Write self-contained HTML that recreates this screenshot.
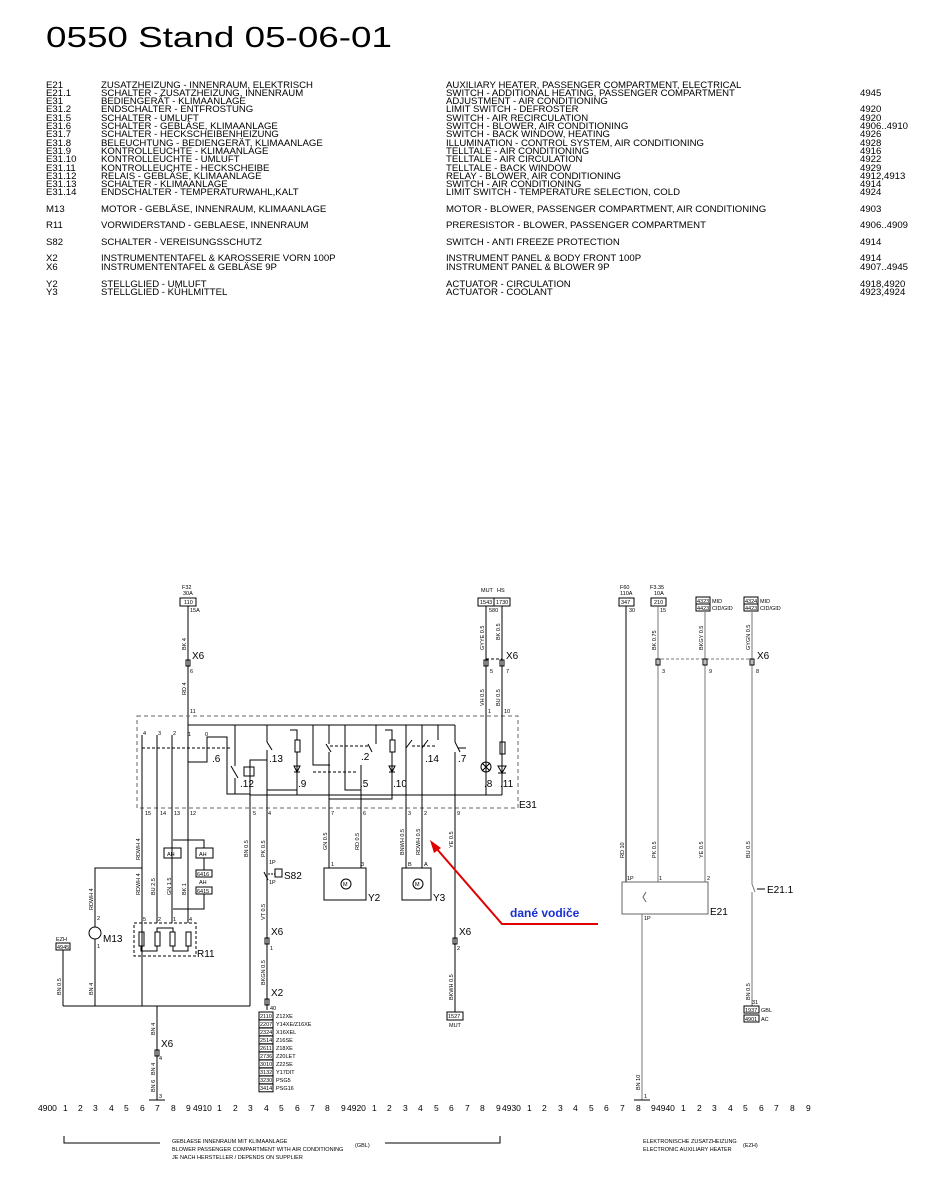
<!DOCTYPE html>
<html><head><meta charset="utf-8"><style>
html,body{margin:0;padding:0;background:#fff;}
svg{display:block;}
text{font-family:"Liberation Sans",sans-serif;fill:#000;}
.lg{font-size:9.6px;}
.t{font-size:5.5px;}
.m{font-size:10px;}
</style></head><body>
<svg width="926" height="1182" viewBox="0 0 926 1182" xmlns="http://www.w3.org/2000/svg">
<rect width="926" height="1182" fill="#fff"/>
<text x="46" y="47" font-size="29" textLength="346" lengthAdjust="spacingAndGlyphs">0550 Stand 05-06-01</text>

<g class="lg">
<text x="46" y="88">E21</text><text x="101" y="88">ZUSATZHEIZUNG - INNENRAUM, ELEKTRISCH</text><text x="446" y="88">AUXILIARY HEATER, PASSENGER COMPARTMENT, ELECTRICAL</text>
<text x="46" y="96">E21.1</text><text x="101" y="96">SCHALTER - ZUSATZHEIZUNG, INNENRAUM</text><text x="446" y="96">SWITCH - ADDITIONAL HEATING, PASSENGER COMPARTMENT</text><text x="860" y="96">4945</text>
<text x="46" y="104">E31</text><text x="101" y="104">BEDIENGERÄT - KLIMAANLAGE</text><text x="446" y="104">ADJUSTMENT - AIR CONDITIONING</text>
<text x="46" y="112">E31.2</text><text x="101" y="112">ENDSCHALTER - ENTFROSTUNG</text><text x="446" y="112">LIMIT SWITCH - DEFROSTER</text><text x="860" y="112">4920</text>
<text x="46" y="121">E31.5</text><text x="101" y="121">SCHALTER - UMLUFT</text><text x="446" y="121">SWITCH - AIR RECIRCULATION</text><text x="860" y="121">4920</text>
<text x="46" y="129">E31.6</text><text x="101" y="129">SCHALTER - GEBLÄSE, KLIMAANLAGE</text><text x="446" y="129">SWITCH - BLOWER, AIR CONDITIONING</text><text x="860" y="129">4906..4910</text>
<text x="46" y="137">E31.7</text><text x="101" y="137">SCHALTER - HECKSCHEIBENHEIZUNG</text><text x="446" y="137">SWITCH - BACK WINDOW, HEATING</text><text x="860" y="137">4926</text>
<text x="46" y="146">E31.8</text><text x="101" y="146">BELEUCHTUNG - BEDIENGERÄT, KLIMAANLAGE</text><text x="446" y="146">ILLUMINATION - CONTROL SYSTEM, AIR CONDITIONING</text><text x="860" y="146">4928</text>
<text x="46" y="154">E31.9</text><text x="101" y="154">KONTROLLEUCHTE - KLIMAANLAGE</text><text x="446" y="154">TELLTALE - AIR CONDITIONING</text><text x="860" y="154">4916</text>
<text x="46" y="162">E31.10</text><text x="101" y="162">KONTROLLEUCHTE - UMLUFT</text><text x="446" y="162">TELLTALE - AIR CIRCULATION</text><text x="860" y="162">4922</text>
<text x="46" y="171">E31.11</text><text x="101" y="171">KONTROLLEUCHTE - HECKSCHEIBE</text><text x="446" y="171">TELLTALE - BACK WINDOW</text><text x="860" y="171">4929</text>
<text x="46" y="179">E31.12</text><text x="101" y="179">RELAIS - GEBLÄSE, KLIMAANLAGE</text><text x="446" y="179">RELAY - BLOWER, AIR CONDITIONING</text><text x="860" y="179">4912,4913</text>
<text x="46" y="187">E31.13</text><text x="101" y="187">SCHALTER - KLIMAANLAGE</text><text x="446" y="187">SWITCH - AIR CONDITIONING</text><text x="860" y="187">4914</text>
<text x="46" y="195">E31.14</text><text x="101" y="195">ENDSCHALTER - TEMPERATURWAHL,KALT</text><text x="446" y="195">LIMIT SWITCH - TEMPERATURE SELECTION, COLD</text><text x="860" y="195">4924</text>
<text x="46" y="212">M13</text><text x="101" y="212">MOTOR - GEBLÄSE, INNENRAUM, KLIMAANLAGE</text><text x="446" y="212">MOTOR - BLOWER, PASSENGER COMPARTMENT, AIR CONDITIONING</text><text x="860" y="212">4903</text>
<text x="46" y="228">R11</text><text x="101" y="228">VORWIDERSTAND - GEBLAESE, INNENRAUM</text><text x="446" y="228">PRERESISTOR - BLOWER, PASSENGER COMPARTMENT</text><text x="860" y="228">4906..4909</text>
<text x="46" y="245">S82</text><text x="101" y="245">SCHALTER - VEREISUNGSSCHUTZ</text><text x="446" y="245">SWITCH - ANTI FREEZE PROTECTION</text><text x="860" y="245">4914</text>
<text x="46" y="261">X2</text><text x="101" y="261">INSTRUMENTENTAFEL &amp; KAROSSERIE VORN 100P</text><text x="446" y="261">INSTRUMENT PANEL &amp; BODY FRONT 100P</text><text x="860" y="261">4914</text>
<text x="46" y="270">X6</text><text x="101" y="270">INSTRUMENTENTAFEL &amp; GEBLÄSE 9P</text><text x="446" y="270">INSTRUMENT PANEL &amp; BLOWER 9P</text><text x="860" y="270">4907..4945</text>
<text x="46" y="287">Y2</text><text x="101" y="287">STELLGLIED - UMLUFT</text><text x="446" y="287">ACTUATOR - CIRCULATION</text><text x="860" y="287">4918,4920</text>
<text x="46" y="295">Y3</text><text x="101" y="295">STELLGLIED - KÜHLMITTEL</text><text x="446" y="295">ACTUATOR - COOLANT</text><text x="860" y="295">4923,4924</text>
</g>

<g fill="none" stroke="#000" stroke-width="1">
<rect x="180" y="598" width="16" height="8"/>
<line x1="188" y1="606" x2="188" y2="725"/>
<rect x="137" y="716" width="381" height="92" stroke="#666" stroke-dasharray="4,3"/>
<line x1="188" y1="725" x2="455" y2="725"/>
<line x1="142" y1="735" x2="142" y2="1006"/>
<line x1="157" y1="735" x2="157" y2="923"/>
<line x1="172" y1="735" x2="172" y2="923"/>
<line x1="188" y1="725" x2="188" y2="923"/>
<line x1="142" y1="748" x2="232" y2="748" stroke-dasharray="3,2"/>
<path d="M188 762 H207 V737 H227 V794 H250"/>
<path d="M235 725 V766 M235 778 V794"/>
<line x1="231" y1="766" x2="238" y2="778"/>
<rect x="244" y="767" width="10" height="9"/>
<path d="M250 767 V760 H267"/>
<path d="M267 725 V742 M267 750 V790 H297"/>
<line x1="267" y1="742" x2="272" y2="750"/>
<path d="M290 730 H297 V740"/><rect x="295" y="740" width="5" height="12"/>
<path d="M297 752 V795"/>
<path d="M313 725 V765 H330 M329 725 V744 M329 752 V795"/>
<line x1="326" y1="744" x2="331" y2="752"/>
<line x1="330" y1="746" x2="370" y2="746" stroke-dasharray="3,2"/>
<line x1="313" y1="772" x2="358" y2="772" stroke-dasharray="3,2"/>
<path d="M345 725 V790 H361 V808"/>
<path d="M376 725 V744"/><line x1="368" y1="744" x2="372" y2="752"/>
<path d="M361 765 V808"/>
<path d="M385 730 H392 V740"/><rect x="390" y="740" width="5" height="12"/>
<path d="M392 752 V799 H329"/>
<path d="M406 725 V808 M422 725 V808"/>
<line x1="406" y1="748" x2="412" y2="740"/><line x1="422" y1="748" x2="428" y2="740"/>
<line x1="412" y1="746" x2="436" y2="746" stroke-dasharray="3,2"/>
<path d="M438 725 V740"/>
<path d="M455 725 V742 M455 752 V808"/>
<line x1="455" y1="742" x2="460" y2="752"/><line x1="458" y1="748" x2="466" y2="748"/>
<line x1="250" y1="795" x2="502" y2="795"/>
<line x1="250" y1="760" x2="250" y2="1006"/>
<line x1="267" y1="790" x2="267" y2="1010"/>
<line x1="329" y1="795" x2="329" y2="868"/>
<line x1="361" y1="808" x2="361" y2="868"/>
<line x1="406" y1="808" x2="406" y2="868"/>
<line x1="422" y1="808" x2="422" y2="868"/>
<line x1="455" y1="808" x2="455" y2="1012"/>
<rect x="478" y="598" width="16" height="8"/><rect x="494" y="598" width="16" height="8"/>
<line x1="486" y1="606" x2="486" y2="795"/>
<line x1="502" y1="606" x2="502" y2="795"/>
<circle cx="486" cy="767" r="5"/><path d="M482 763 L490 771 M490 763 L482 771"/>
<rect x="500" y="742" width="5" height="12"/>
<path d="M498 766 H506 L502 773 Z M498 773 H506"/>
<path d="M294 766 H300 L297 772 Z M294 772 H300 M389 766 H395 L392 772 Z M389 772 H395"/>
<rect x="186" y="660" width="4" height="6"/>
<rect x="484" y="660" width="4" height="6"/><rect x="500" y="660" width="4" height="6"/>
<line x1="486" y1="659" x2="502" y2="659" stroke-dasharray="3,2"/>
<path d="M142 868 H95 V927 M95 939 V1006"/>
<circle cx="95" cy="933" r="6"/>
<line x1="63" y1="1006" x2="250" y2="1006"/>
<rect x="56" y="943" width="14" height="7"/>
<line x1="63" y1="950" x2="63" y2="1006"/>
<line x1="157" y1="1006" x2="157" y2="1100"/>
<line x1="149" y1="1100" x2="165" y2="1100"/>
<rect x="155" y="1050" width="4" height="6"/>
<path d="M173 840 H204 V848 M204 858 V870 M204 894 V909 H173"/>
<rect x="164" y="848" width="17" height="10"/><rect x="196" y="848" width="17" height="10"/>
<rect x="196" y="870" width="16" height="7"/><rect x="196" y="887" width="16" height="7"/>
<rect x="134" y="923" width="62" height="33" stroke-dasharray="3,2"/>
<rect x="139" y="932" width="5" height="14"/><rect x="155" y="932" width="5" height="14"/>
<rect x="170" y="932" width="5" height="14"/><rect x="186" y="932" width="5" height="14"/>
<path d="M141 946 V951 H157 V946 M157 932 V928 H173 V932 M173 946 V951 H188 V946"/>
<line x1="264" y1="872" x2="268" y2="880"/>
<rect x="275" y="869" width="7" height="8"/>
<line x1="268" y1="874" x2="275" y2="874" stroke-dasharray="2,1"/>
<rect x="265" y="938" width="4" height="6"/><rect x="265" y="999" width="4" height="6"/>
<rect x="259" y="1012" width="14" height="7.8"/><rect x="259" y="1020" width="14" height="7.8"/>
<rect x="259" y="1028" width="14" height="7.8"/><rect x="259" y="1036" width="14" height="7.8"/>
<rect x="259" y="1044" width="14" height="7.8"/><rect x="259" y="1052" width="14" height="7.8"/>
<rect x="259" y="1060" width="14" height="7.8"/><rect x="259" y="1068" width="14" height="7.8"/>
<rect x="259" y="1076" width="14" height="7.8"/><rect x="259" y="1084" width="14" height="7.8"/>
<rect x="324" y="868" width="42" height="32"/>
<circle cx="346" cy="884" r="5"/>
<rect x="402" y="868" width="29" height="32"/>
<circle cx="418" cy="884" r="5"/>
<rect x="453" y="938" width="4" height="6"/>
<rect x="447" y="1012" width="16" height="8"/>
<rect x="619" y="598" width="15" height="8"/><rect x="651" y="598" width="15" height="8"/>
<rect x="696" y="597" width="14" height="7"/><rect x="696" y="604" width="14" height="7"/>
<rect x="744" y="597" width="14" height="7"/><rect x="744" y="604" width="14" height="7"/>
<line x1="626" y1="606" x2="626" y2="882"/>
<line x1="658" y1="606" x2="658" y2="882" stroke="#777"/>
<line x1="705" y1="611" x2="705" y2="882" stroke="#777"/>
<line x1="752" y1="611" x2="752" y2="884" stroke="#777"/>
<line x1="752" y1="892" x2="752" y2="1006" stroke="#777"/>
<line x1="752" y1="884" x2="755" y2="892" stroke="#777"/><line x1="757" y1="889" x2="765" y2="889"/>
<line x1="656" y1="659" x2="754" y2="659" stroke="#777" stroke-dasharray="3,2"/>
<rect x="656" y="659" width="4" height="6"/><rect x="703" y="659" width="4" height="6"/><rect x="750" y="659" width="4" height="6"/>
<rect x="622" y="882" width="86" height="32" stroke="#666"/>
<path d="M646 892 L643 897 L646 902" stroke="#666"/>
<line x1="642" y1="914" x2="642" y2="1100" stroke="#777"/>
<line x1="634" y1="1100" x2="650" y2="1100"/>
<rect x="744" y="1006" width="15" height="7"/><rect x="744" y="1015" width="15" height="7"/>
<path d="M64 1136 V1143 H160"/>
<path d="M385 1143 H500 V1136"/>
</g>
<g stroke="#e00000" stroke-width="2" fill="none"><path d="M598 924 H502 L436 848"/></g>
<path d="M430 840 L441 848 L434 853 Z" fill="#e00000"/>
<text x="510" y="917" font-size="12" font-weight="bold" style="fill:#1a2fd0">dané vodiče</text>

<g class="t">
<text x="182" y="589">F32</text><text x="183" y="595">30A</text><text x="184" y="604">110</text><text x="190" y="612">15A</text>
<text x="188" y="736">1</text><text x="205" y="736">0</text>
<text x="481" y="592">MUT</text><text x="497" y="592">HS</text><text x="480" y="604">1543</text><text x="496" y="604">1730</text><text x="489" y="612">580</text>
<text x="490" y="673">5</text><text x="506" y="673">7</text><text x="190" y="673">6</text>
<text x="190" y="713">11</text><text x="488" y="713">1</text><text x="504" y="713">10</text>
<text x="143" y="735">4</text><text x="158" y="735">3</text><text x="173" y="735">2</text>
<text x="145" y="815">15</text><text x="160" y="815">14</text><text x="174" y="815">13</text><text x="190" y="815">12</text>
<text x="253" y="815">5</text><text x="268" y="815">4</text><text x="331" y="815">7</text><text x="363" y="815">6</text>
<text x="408" y="815">3</text><text x="424" y="815">2</text><text x="457" y="815">9</text>
<text x="56" y="941">EZH</text><text x="57" y="949">4945</text>
<text x="97" y="920">2</text><text x="97" y="948">1</text>
<text x="143" y="921">5</text><text x="158" y="921">2</text><text x="173" y="921">1</text><text x="189" y="921">4</text>
<text x="167" y="856">AH</text><text x="199" y="856">AH</text><text x="197" y="876">6416</text><text x="199" y="884">AH</text><text x="197" y="893">6415</text>
<text x="269" y="864">1P</text><text x="269" y="884">1P</text>
<text x="270" y="950">1</text><text x="270" y="1010">40</text>
<text x="159" y="1060">4</text><text x="159" y="1098">3</text>
<text x="260" y="1018">2110</text><text x="276" y="1018">Z12XE</text>
<text x="260" y="1026">2207</text><text x="276" y="1026">Y14XE/Z16XE</text>
<text x="260" y="1034">2324</text><text x="276" y="1034">X16XEL</text>
<text x="260" y="1042">2514</text><text x="276" y="1042">Z16SE</text>
<text x="260" y="1050">2611</text><text x="276" y="1050">Z18XE</text>
<text x="260" y="1058">2736</text><text x="276" y="1058">Z20LET</text>
<text x="260" y="1066">3010</text><text x="276" y="1066">Z22SE</text>
<text x="260" y="1074">3132</text><text x="276" y="1074">Y17DIT</text>
<text x="260" y="1082">3230</text><text x="276" y="1082">PSG5</text>
<text x="260" y="1090">3414</text><text x="276" y="1090">PSG16</text>
<text x="331" y="866">1</text><text x="361" y="866">3</text><text x="408" y="866">B</text><text x="424" y="866">A</text>
<text x="343" y="886">M</text><text x="415" y="886">M</text>
<text x="457" y="950">2</text>
<text x="448" y="1018">1527</text><text x="449" y="1027">MUT</text>
<text x="620" y="589">F60</text><text x="620" y="595">110A</text><text x="621" y="604">347</text><text x="629" y="612">30</text>
<text x="650" y="589">F3.35</text><text x="654" y="595">10A</text><text x="654" y="604">210</text><text x="660" y="612">15</text>
<text x="697" y="603">4323</text><text x="712" y="603">MID</text><text x="697" y="610">4423</text><text x="712" y="610">CID/GID</text>
<text x="745" y="603">4324</text><text x="760" y="603">MID</text><text x="745" y="610">4423</text><text x="760" y="610">CID/GID</text>
<text x="662" y="673">3</text><text x="709" y="673">9</text><text x="756" y="673">8</text>
<text x="627" y="880">1P</text><text x="659" y="880">1</text><text x="707" y="880">2</text><text x="644" y="920">1P</text>
<text x="752" y="1004">31</text><text x="745" y="1012">1937</text><text x="761" y="1012">GBL</text><text x="745" y="1021">4901</text><text x="761" y="1021">AC</text>
<text x="644" y="1098">1</text>
</g>
<g class="t">
<text transform="translate(186,650) rotate(-90)">BK 4</text>
<text transform="translate(186,695) rotate(-90)">RD 4</text>
<text transform="translate(484,650) rotate(-90)">GYYE 0.5</text>
<text transform="translate(500,640) rotate(-90)">BK 0.5</text>
<text transform="translate(484,706) rotate(-90)">VH 0.5</text>
<text transform="translate(500,706) rotate(-90)">BU 0.5</text>
<text transform="translate(140,860) rotate(-90)">RDWH 4</text>
<text transform="translate(140,895) rotate(-90)">RDWH 4</text>
<text transform="translate(155,895) rotate(-90)">BU 2.5</text>
<text transform="translate(171,895) rotate(-90)">GN 1.5</text>
<text transform="translate(186,895) rotate(-90)">BK 1</text>
<text transform="translate(93,910) rotate(-90)">RDWH 4</text>
<text transform="translate(61,995) rotate(-90)">BN 0.5</text>
<text transform="translate(93,995) rotate(-90)">BN 4</text>
<text transform="translate(155,1035) rotate(-90)">BN 4</text>
<text transform="translate(155,1075) rotate(-90)">BN 4</text>
<text transform="translate(155,1092) rotate(-90)">BN 6</text>
<text transform="translate(248,857) rotate(-90)">BN 0.5</text>
<text transform="translate(265,857) rotate(-90)">PK 0.5</text>
<text transform="translate(265,920) rotate(-90)">VT 0.5</text>
<text transform="translate(265,985) rotate(-90)">BKGN 0.5</text>
<text transform="translate(327,850) rotate(-90)">GN 0.5</text>
<text transform="translate(359,850) rotate(-90)">RD 0.5</text>
<text transform="translate(404,855) rotate(-90)">BNWH 0.5</text>
<text transform="translate(420,855) rotate(-90)">RDWH 0.5</text>
<text transform="translate(453,848) rotate(-90)">YE 0.5</text>
<text transform="translate(453,1000) rotate(-90)">BKWH 0.5</text>
<text transform="translate(624,858) rotate(-90)">RD 10</text>
<text transform="translate(656,858) rotate(-90)">PK 0.5</text>
<text transform="translate(703,858) rotate(-90)">YE 0.5</text>
<text transform="translate(750,858) rotate(-90)">BU 0.5</text>
<text transform="translate(656,650) rotate(-90)">BK 0.75</text>
<text transform="translate(703,650) rotate(-90)">BKGY 0.5</text>
<text transform="translate(750,650) rotate(-90)">GYGN 0.5</text>
<text transform="translate(750,1000) rotate(-90)">BN 0.5</text>
<text transform="translate(640,1090) rotate(-90)">BN 10</text>
</g>
<g class="m">
<text x="192" y="659">X6</text><text x="506" y="659">X6</text><text x="757" y="659">X6</text>
<text x="212" y="762">.6</text><text x="269" y="762">.13</text><text x="240" y="787">.12</text><text x="298" y="787">.9</text>
<text x="361" y="760">.2</text><text x="360" y="787">.5</text><text x="393" y="787">.10</text><text x="425" y="762">.14</text><text x="458" y="762">.7</text>
<text x="484" y="787">.8</text><text x="500" y="787">.11</text><text x="519" y="808">E31</text>
<text x="103" y="942">M13</text><text x="197" y="957">R11</text><text x="284" y="879">S82</text>
<text x="368" y="901">Y2</text><text x="433" y="901">Y3</text>
<text x="271" y="935">X6</text><text x="271" y="996">X2</text><text x="161" y="1047">X6</text><text x="459" y="935">X6</text>
<text x="710" y="915">E21</text><text x="767" y="893">E21.1</text>
</g>
<g font-size="8.5">
<text x="38" y="1111">4900</text>
<text x="63" y="1111">1</text><text x="78" y="1111">2</text><text x="93" y="1111">3</text><text x="109" y="1111">4</text><text x="124" y="1111">5</text><text x="140" y="1111">6</text><text x="155" y="1111">7</text><text x="171" y="1111">8</text><text x="186" y="1111">9</text>
<text x="193" y="1111">4910</text>
<text x="217" y="1111">1</text><text x="233" y="1111">2</text><text x="248" y="1111">3</text><text x="264" y="1111">4</text><text x="279" y="1111">5</text><text x="295" y="1111">6</text><text x="310" y="1111">7</text><text x="325" y="1111">8</text><text x="341" y="1111">9</text>
<text x="347" y="1111">4920</text>
<text x="372" y="1111">1</text><text x="387" y="1111">2</text><text x="403" y="1111">3</text><text x="418" y="1111">4</text><text x="434" y="1111">5</text><text x="449" y="1111">6</text><text x="465" y="1111">7</text><text x="480" y="1111">8</text><text x="496" y="1111">9</text>
<text x="502" y="1111">4930</text>
<text x="527" y="1111">1</text><text x="542" y="1111">2</text><text x="558" y="1111">3</text><text x="573" y="1111">4</text><text x="589" y="1111">5</text><text x="604" y="1111">6</text><text x="620" y="1111">7</text><text x="636" y="1111">8</text><text x="651" y="1111">9</text>
<text x="656" y="1111">4940</text>
<text x="681" y="1111">1</text><text x="697" y="1111">2</text><text x="712" y="1111">3</text><text x="728" y="1111">4</text><text x="743" y="1111">5</text><text x="759" y="1111">6</text><text x="774" y="1111">7</text><text x="790" y="1111">8</text><text x="806" y="1111">9</text>
</g>
<g font-size="5.5">
<text x="172" y="1143">GEBLAESE INNENRAUM MIT KLIMAANLAGE</text>
<text x="172" y="1151">BLOWER PASSENGER COMPARTMENT WITH AIR CONDITIONING</text>
<text x="172" y="1159">JE NACH HERSTELLER / DEPENDS ON SUPPLIER</text>
<text x="355" y="1147">(GBL)</text>
<text x="643" y="1143">ELEKTRONISCHE ZUSATZHEIZUNG</text>
<text x="643" y="1151">ELECTRONIC AUXILIARY HEATER</text>
<text x="743" y="1147">(EZH)</text>
</g>
</svg>
</body></html>
